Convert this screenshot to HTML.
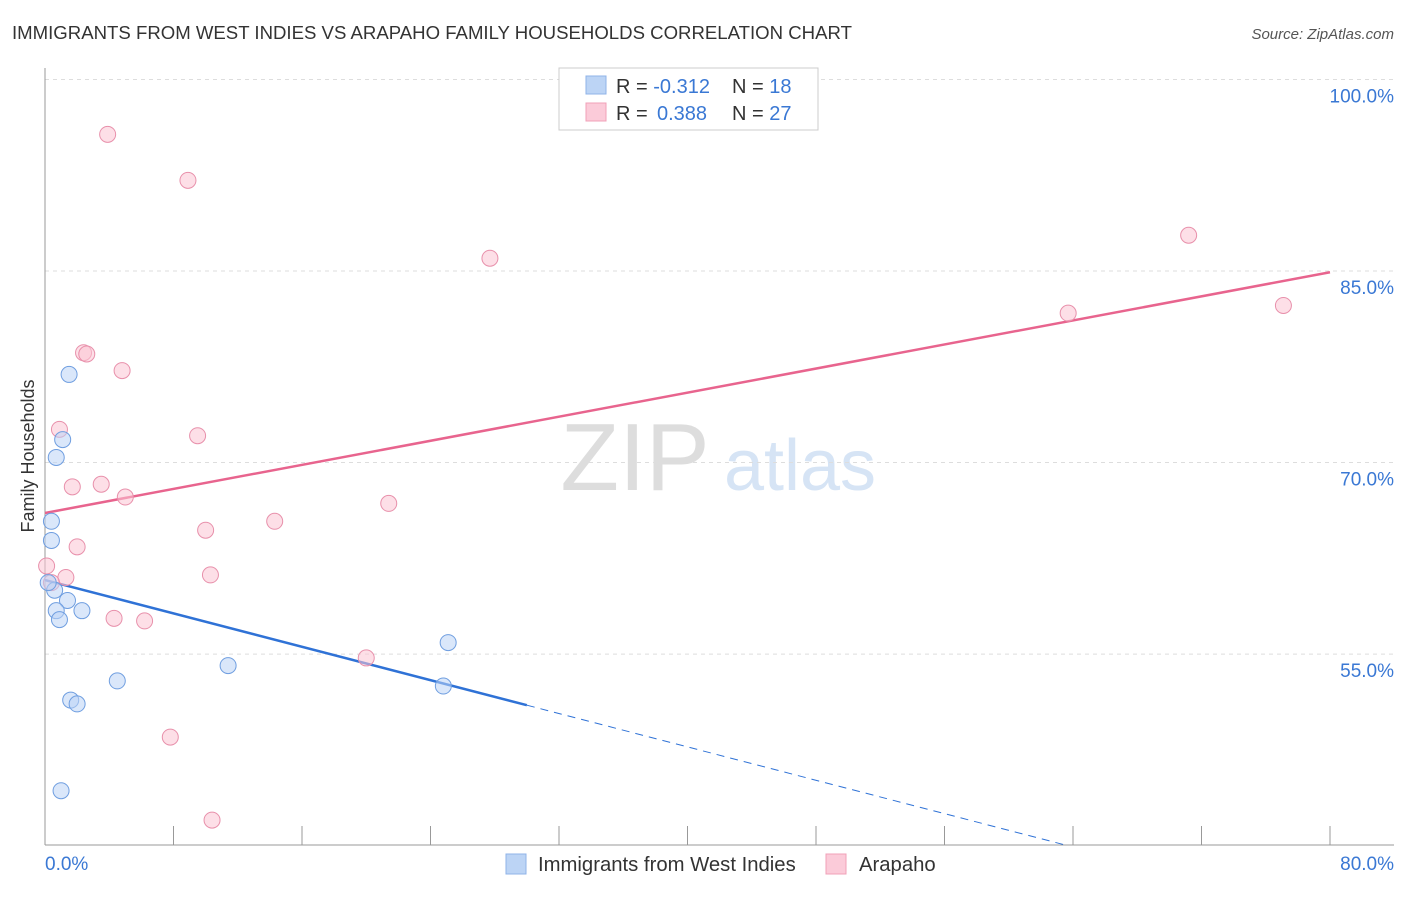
<!DOCTYPE html>
<html><head><meta charset="utf-8"><style>
body{margin:0;background:#fff;font-family:"Liberation Sans",sans-serif;}
svg text{font-family:"Liberation Sans",sans-serif;}
</style></head><body>
<svg id="chart" width="1406" height="892" xmlns="http://www.w3.org/2000/svg">
<text x="12" y="39" font-size="18.6" fill="#333">IMMIGRANTS FROM WEST INDIES VS ARAPAHO FAMILY HOUSEHOLDS CORRELATION CHART</text>
<text x="1394" y="39" font-size="15" fill="#555" text-anchor="end" font-style="italic">Source: ZipAtlas.com</text>
<text x="635" y="490" font-size="96" fill="#ddd" font-family="Liberation Serif" text-anchor="middle">ZIP</text>
<text x="800" y="490" font-size="72" fill="#d6e4f5" text-anchor="middle">atlas</text>
<g id="grid"></g><g id="axes"></g><g id="lines"></g><g id="points"></g>
<text transform="translate(34,456) rotate(-90)" font-size="18" fill="#333" text-anchor="middle">Family Households</text>
<g>
<rect x="559" y="68" width="259" height="62" fill="#fff" stroke="#ccc"/>
<rect x="586" y="76" width="20" height="18" fill="#bcd4f5" stroke="#8fb3e8"/>
<rect x="586" y="103" width="20" height="18" fill="#fbcbd9" stroke="#f0a0b8"/>
<text x="616" y="93" font-size="20" fill="#333">R = <tspan fill="#3a78d4">-0.312</tspan><tspan x="732">N = </tspan><tspan fill="#3a78d4">18</tspan></text>
<text x="616" y="120" font-size="20" fill="#333">R = <tspan fill="#3a78d4" x="657">0.388</tspan><tspan x="732">N = </tspan><tspan fill="#3a78d4">27</tspan></text>
</g>
<g>
<rect x="506" y="854" width="20" height="20" fill="#bcd4f5" stroke="#8fb3e8"/>
<text x="538" y="871" font-size="20.3" fill="#333">Immigrants from West Indies</text>
<rect x="826" y="854" width="20" height="20" fill="#fbcbd9" stroke="#f0a0b8"/>
<text x="859" y="871" font-size="20.3" fill="#333">Arapaho</text>
</g>
</svg>
<script>
const yTicks=[100,85,70,55];
const yTickLabels=["100.0%","85.0%","70.0%","55.0%"];
const xLabels=["0.0%","80.0%"];
const blueX=[1.5,1.1,0.7,0.4,0.4,0.6,1.4,0.7,0.9,2.3,4.5,1.6,2.0,1.0,11.4,25.1,24.8,0.2];
const blueY=[76.9,71.8,70.4,65.4,63.9,60.0,59.2,58.4,57.7,58.4,52.9,51.4,51.1,44.3,54.1,55.9,52.5,60.6];
const pinkX=[3.9,8.9,27.7,71.2,77.1,63.7,2.4,2.6,4.8,0.9,9.5,1.7,3.5,5.0,21.4,14.3,10.0,2.0,0.1,1.3,0.4,10.3,4.3,6.2,20.0,7.8,10.4];
const pinkY=[95.7,92.1,86.0,87.8,82.3,81.7,78.6,78.5,77.2,72.6,72.1,68.1,68.3,67.3,66.8,65.4,64.7,63.4,61.9,61.0,60.6,61.2,57.8,57.6,54.7,48.5,42.0];
const blueTrend=[60.8,51.0];const blueTrendEnd=30;
const pinkTrend=[66.05,84.9];
const X=v=>45+v*(1285/80);
const Y=v=>271+(85-v)*12.77;
const NS="http://www.w3.org/2000/svg";
function mk(parent,tag,attrs){const e=document.createElementNS(NS,tag);for(const k in attrs)e.setAttribute(k,attrs[k]);document.getElementById(parent).appendChild(e);return e;}
yTicks.forEach((t,i)=>{
 const l=mk('grid','line',{x1:45,x2:1394,y1:Y(t),y2:Y(t),stroke:'#ddd','stroke-dasharray':'4,4'});
 
 
 const tx=mk('grid','text',{x:1394,y:Y(t)+23,'font-size':19,fill:'#3a78d4','text-anchor':'end'});tx.textContent=yTickLabels[i];
 
 
});
const ax=mk('axes','line',{x1:45,x2:45,y1:68,y2:845,stroke:'#999'});


const bx=mk('axes','line',{x1:45,x2:1394,y1:845,y2:845,stroke:'#999'});


for(let i=0;i<=10;i++){const t=mk('axes','line',{x1:X(i*8),x2:X(i*8),y1:826,y2:845,stroke:'#999'});
 
 }
[[0,'start',45],[80,'end',1394]].forEach((d,i)=>{const t=mk('axes','text',{x:d[2],y:870,'font-size':19,fill:'#3a78d4','text-anchor':d[1]});t.textContent=xLabels[i];
 
 });
function pts(xs,ys,fill,stroke,name){xs.forEach((x,i)=>{const c=mk('points','circle',{cx:X(x),cy:Y(ys[i]),r:8,fill:fill,stroke:stroke,'stroke-width':1,'fill-opacity':0.55});
 
 });}
pts(pinkX,pinkY,'#fbc4d4','#e890ab','arapaho-point');
pts(blueX,blueY,'#bcd4f5','#6f9ee0','west-indies-point');
const pl=mk('lines','line',{x1:X(0),y1:Y(pinkTrend[0]),x2:X(80),y2:Y(pinkTrend[1]),stroke:'#e8648e','stroke-width':2.5});


const bl=mk('lines','line',{x1:X(0),y1:Y(blueTrend[0]),x2:X(blueTrendEnd),y2:Y(blueTrend[1]),stroke:'#2f72d6','stroke-width':2.5});


const slope=(blueTrend[1]-blueTrend[0])/blueTrendEnd;const xEnd=(40-blueTrend[0])/slope;
const bd=mk('lines','line',{x1:X(blueTrendEnd),y1:Y(blueTrend[1]),x2:X(xEnd),y2:Y(40),stroke:'#2f72d6','stroke-width':1,'stroke-dasharray':'8,6'});


</script>
</body></html>
